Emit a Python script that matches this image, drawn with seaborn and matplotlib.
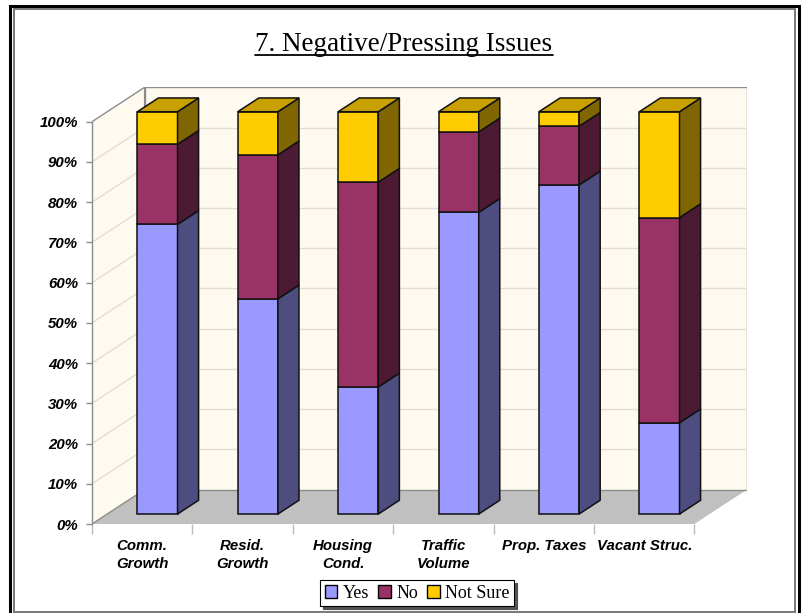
import numpy as np
import pandas as pd
import matplotlib.pyplot as plt
import seaborn as sns
from matplotlib.patches import Polygon, Rectangle, Patch
from matplotlib.lines import Line2D


# Data (percent of responses)
categories = ['Comm.\nGrowth', 'Resid.\nGrowth', 'Housing\nCond.', 'Traffic\nVolume', 'Prop. Taxes', 'Vacant Struc.']
yes = [72.0, 53.5, 31.6, 75.0, 81.8, 22.7]
no = [19.9, 35.8, 50.9, 20.0, 14.6, 51.0]
not_sure = [8.1, 10.7, 17.5, 5.0, 3.6, 26.3]
series = ['Yes', 'No', 'Not Sure']
yticks = list(range(0, 101, 10))

front_colors = ['#9999FF', '#993366', '#FFCC00']
side_colors = ['#4D4D80', '#4C1A33', '#806600']
top_color = '#C8A000'
wall_color = '#FFFAEF'
edge = '#111111'

# fake 3d look: full depth offset of the box, and where the bars sit in it
DX, DY = 0.524, 8.55
D0, D1 = 0.29, 0.69
W = 0.4

sns.set_style('white')
plt.rcParams['font.family'] = ['Liberation Sans', 'DejaVu Sans']

fig = plt.figure(figsize=(8.04, 6.13), dpi=100)
ax = fig.add_axes([92/804, 89/613, 655/804, 436.7/613])

n = len(categories)

# floor and walls
ax.add_patch(Polygon([(0, 0), (n, 0), (n+DX, DY), (DX, DY)], closed=True, fc='#C0C0C0', ec='none', zorder=0))
ax.add_patch(Polygon([(0, 0), (DX, DY), (DX, 100+DY), (0, 100)], closed=True, fc=wall_color, ec='#8C8C8C', lw=1, zorder=0))
ax.add_patch(Rectangle((DX, DY), n, 100, fc=wall_color, ec='#8C8C8C', lw=1, zorder=0))
for t in yticks[1:-1]:
    ax.plot([DX, n+DX], [t+DY, t+DY], color='#E2DED4', lw=1, zorder=1)
    ax.plot([0, DX], [t, t+DY], color='#E2DED4', lw=1, zorder=1)

# stacked bars: front faces with seaborn, sides/top as polygons
df = pd.DataFrame({'x': np.arange(n) + 0.5 + D0*DX, 'Yes': yes, 'No': no, 'Not Sure': not_sure})
dd = D1 - D0
bottom = np.full(n, D0*DY)
for s, fc, sc in zip(series, front_colors, side_colors):
    sns.barplot(data=df, x='x', y=s, native_scale=True, width=W, color=fc, saturation=1,
                bottom=bottom, edgecolor=edge, linewidth=1.1, ax=ax, zorder=3)
    for i in range(n):
        xr = df['x'][i] + W/2
        y0, y1 = bottom[i], bottom[i] + df[s][i]
        ax.add_patch(Polygon([(xr, y0), (xr+dd*DX, y0+dd*DY), (xr+dd*DX, y1+dd*DY), (xr, y1)],
                             closed=True, fc=sc, ec=edge, lw=1.1, zorder=3))
    bottom = bottom + df[s].values

for i in range(n):
    xl = df['x'][i] - W/2
    xr = df['x'][i] + W/2
    yt = bottom[i]
    ax.add_patch(Polygon([(xl, yt), (xr, yt), (xr+dd*DX, yt+dd*DY), (xl+dd*DX, yt+dd*DY)],
                         closed=True, fc=top_color, ec=edge, lw=1.1, zorder=3))

ax.set_xlim(0, n+DX)
ax.set_ylim(0, 100+DY)
ax.set_xlabel('')
ax.set_ylabel('')
ax.set_facecolor('none')

ax.set_yticks(yticks)
ax.set_yticklabels([f'{t}%' for t in yticks], fontsize=10.8, fontweight='bold', fontstyle='italic')
ax.set_xticks(np.arange(n) + 0.5)
ax.set_xticklabels(categories, fontsize=10.8, fontweight='bold', fontstyle='italic', linespacing=1.35)
ax.set_xticks(np.arange(n+1), minor=True)
ax.tick_params(axis='x', which='major', bottom=True, length=0, pad=11, labelcolor='black')
ax.tick_params(axis='x', which='minor', bottom=True, length=7, color='#BBBBBB', width=1)
ax.tick_params(axis='y', left=True, length=4, color='#8C8C8C', width=1, pad=6, labelcolor='black')
for sp in ['top', 'right', 'bottom']:
    ax.spines[sp].set_visible(False)
ax.spines['left'].set_bounds(0, 100)
ax.spines['left'].set_color('#8C8C8C')
ax.spines['left'].set_linewidth(1)

# legend
handles = [Patch(fc=c, ec='black', lw=1) for c in front_colors]
leg = fig.legend(handles, series, loc='center', bbox_to_anchor=(417/804, 1-593/613), ncol=3,
                 frameon=True, fancybox=False, shadow={'color': '#444444', 'alpha': 0.9}, edgecolor='black',
                 prop={'family': 'Liberation Serif', 'size': 13},
                 handlelength=0.7, handleheight=0.7, handletextpad=0.3, columnspacing=0.5,
                 borderpad=0.25, borderaxespad=0)
leg.get_frame().set_linewidth(0.8)
for txt in leg.get_texts():
    txt.set_color('black')

# title with underline
title = fig.text(404/804, 1-51/613, '7. Negative/Pressing Issues', ha='center', va='baseline',
                 fontsize=19.5, family='Liberation Serif', color='black')
fig.canvas.draw()
bb = title.get_window_extent()
fig.add_artist(Line2D([bb.x0/804, bb.x1/804], [1-55/613, 1-55/613], transform=fig.transFigure,
                      color='black', lw=1.3))

# page frame
fig.patches.append(Rectangle((9.7/804, -0.05), (798.7-9.7)/804, 1.05-6.2/613, transform=fig.transFigure,
                             fill=False, ec='black', lw=2.2))
fig.patches.append(Rectangle((13.7/804, 1-611.7/613), (795.2-13.7)/804, (611.7-9.2)/613, transform=fig.transFigure,
                             fill=False, ec='#777777', lw=1.4))

fig.savefig('out.png', dpi=100)
